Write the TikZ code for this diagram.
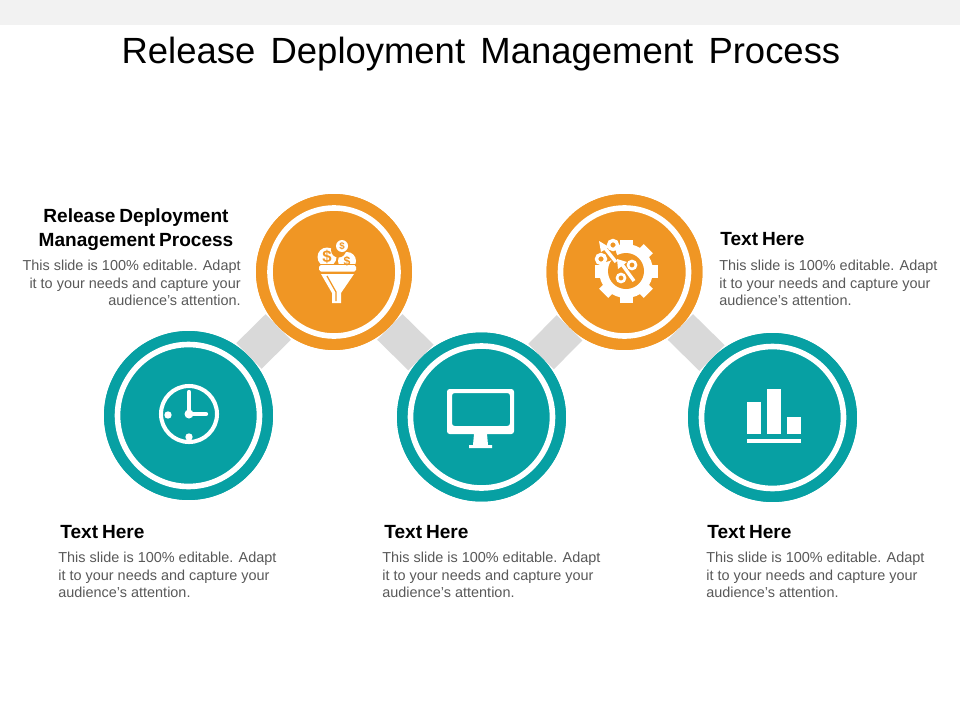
\documentclass[tikz,border=0pt]{standalone}
\usepackage{fontspec}
\setmainfont{Liberation Sans}
\usepackage{tikz}
\usetikzlibrary{positioning,calc}

\definecolor{slideteal}{HTML}{07A0A3}
\definecolor{slideorange}{HTML}{F09624}
\definecolor{barcolor}{HTML}{D9D9D9}
\definecolor{bodycolor}{HTML}{595959}
\definecolor{topcolor}{HTML}{F2F2F2}

\newcommand{\headwords}[1]{{\spaceskip=0.21em #1}}

\tikzset{
    tealdisc/.style={circle, fill=slideteal, inner sep=0pt, minimum size=3.38cm},
    orangedisc/.style={circle, fill=slideorange, inner sep=0pt, minimum size=3.12cm},
    tealring/.style={circle, draw=white, line width=3.2pt, inner sep=0pt, minimum size=2.84cm},
    orangering/.style={circle, draw=white, line width=3.2pt, inner sep=0pt, minimum size=2.56cm},
    linkbar/.style={draw=barcolor, line width=20.5pt},
    headtext/.style={font=\fontsize{10.85}{13}\selectfont\bfseries, text=black, inner sep=0pt},
    bodytext/.style={font=\fontsize{8.22}{9.95}\selectfont, text=bodycolor, inner sep=0pt},
    icon/.style={fill=white, draw=none},
    iconline/.style={draw=white, fill=none}
}

\begin{document}
\begin{tikzpicture}[x=0.02cm, y=-0.02cm]
    \useasboundingbox (0,0) rectangle (960,720);
    \fill[white] (0,0) rectangle (960,720);
    \fill[topcolor] (0,0) rectangle (960,25);

    % Title
    \node[font=\fontsize{20.75}{24}\selectfont, inner sep=0pt] (title) at (481,54)
        {\spaceskip=0.42em Release Deployment Management Process};

    % Circles
    \node[tealdisc] (clock) at (188.5,415.5) {};
    \node[orangedisc] (funnel) at (334,272) {};
    \node[tealdisc] (monitor) at (481.5,417) {};
    \node[orangedisc] (gear) at (624.5,272) {};
    \node[tealdisc] (chart) at (772.5,417.5) {};

    % Links
    \draw[linkbar] (clock) -- (funnel);
    \draw[linkbar] (funnel) -- (monitor);
    \draw[linkbar] (monitor) -- (gear);
    \draw[linkbar] (gear) -- (chart);

    % Discs again, over the links
    \node[tealdisc] (clockdisc) at (clock) {};
    \node[orangedisc] (funneldisc) at (funnel) {};
    \node[tealdisc] (monitordisc) at (monitor) {};
    \node[orangedisc] (geardisc) at (gear) {};
    \node[tealdisc] (chartdisc) at (chart) {};

    % Rings
    \node[tealring] (clockring) at (clock) {};
    \node[orangering] (funnelring) at (funnel) {};
    \node[tealring] (monitorring) at (monitor) {};
    \node[orangering] (gearring) at (gear) {};
    \node[tealring] (chartring) at (chart) {};

    % Clock icon
    \draw[iconline, line width=2.3pt] (189,414) circle (28);
    \draw[iconline, line width=2.4pt, line cap=round] (189,392) -- (189,414) -- (206,414);
    \fill[icon] (189,414) circle (4.5);
    \fill[icon] (168,415) circle (3.7);
    \fill[icon] (189,437) circle (3.7);

    % Monitor icon
    \fill[icon, rounded corners=1.5pt, even odd rule] (447,389) rectangle (514,434)
        (452,393) rectangle (510,426);
    \fill[icon] (474,434) -- (487,434) -- (488,445) -- (492,445) -- (492,448) -- (469,448) -- (469,445) -- (473,445) -- cycle;

    % Chart icon
    \fill[icon] (747,402) rectangle (761,434);
    \fill[icon] (767,389) rectangle (781,434);
    \fill[icon] (787,417) rectangle (801,434);
    \fill[icon] (747,439) rectangle (801,443);

    % Funnel icon
    \fill[icon] (347,261) circle (9);
    \fill[icon] (327,257) circle (9.5);
    \fill[slideorange] (338.5,250) circle (7.5);
    \fill[icon] (342,246) circle (6);
    \fill[slideorange] (318,263.5) rectangle (358,265);
    \fill[icon, rounded corners=1pt] (319,265) -- (356,265) -- (356,271.5) -- (319,271.5) -- cycle;
    \fill[icon] (321,274) -- (354,274) -- (341,293) -- (341,303) -- (332,303) -- (332,293) -- cycle;
    \draw[slideorange, line width=0.7pt] (327,276) -- (336,292) -- (336,301);
    \node[text=slideorange, font=\fontsize{9.5}{10}\selectfont\bfseries, inner sep=0pt] (coinbig) at (327,257) {\$};
    \node[text=slideorange, font=\fontsize{5.5}{6}\selectfont\bfseries, inner sep=0pt] (cointop) at (342,246) {\$};
    \node[text=slideorange, font=\fontsize{7}{7}\selectfont\bfseries, inner sep=0pt] (coinlow) at (347,261) {\$};

    % Gear icon
    \foreach \a in {0,45,...,315} {
        \fill[icon, rotate around={\a:(626,271)}] (619.5,239.5) rectangle (632.5,250);
    }
    \fill[icon] (626,271) circle (27);
    \fill[slideorange] (626,271) circle (18);
    \fill[slideorange] (596,240) -- (612,240) -- (618,258) -- (600,264) -- cycle;
    \draw[iconline, line width=1.5pt] (621,278) circle (4);
    \draw[iconline, line width=1.5pt] (632,265) circle (4);
    \draw[iconline, line width=1.9pt] (634,281) -- (621,263);
    \fill[icon] (617,259) -- (627,262) -- (618,269) -- cycle;
    \fill[icon] (599,241) -- (609,247) -- (601,252) -- cycle;
    \draw[iconline, line width=1.9pt] (604,247) -- (616,262);
    \draw[iconline, line width=1.9pt] (613,245) circle (4.5);
    \draw[iconline, line width=1.9pt] (601,259) circle (4.5);

    % Heading labels
    \node[headtext, align=center, anchor=center] (firsthead) at (136,229.5)
        {\headwords{Release Deployment}\\[0.5pt]\headwords{Management Process}};
    \node[headtext, anchor=base west] (gearhead) at (720,245) {\headwords{Text Here}};
    \node[headtext, anchor=base west] (clockhead) at (60,538) {\headwords{Text Here}};
    \node[headtext, anchor=base west] (monitorhead) at (384,538) {\headwords{Text Here}};
    \node[headtext, anchor=base west] (charthead) at (707,538) {\headwords{Text Here}};

    % Body labels
    \node[bodytext, align=right, anchor=north east] (firstbody) at (241,260)
        {This slide is 100\% editable. Adapt\\it to your needs and capture your\\audience's attention.};
    \node[bodytext, align=left, anchor=north west] (gearbody) at (719,260)
        {This slide is 100\% editable. Adapt\\it to your needs and capture your\\audience's attention.};
    \node[bodytext, align=left, anchor=north west] (clockbody) at (58,552)
        {This slide is 100\% editable. Adapt\\it to your needs and capture your\\audience's attention.};
    \node[bodytext, align=left, anchor=north west] (monitorbody) at (382,552)
        {This slide is 100\% editable. Adapt\\it to your needs and capture your\\audience's attention.};
    \node[bodytext, align=left, anchor=north west] (chartbody) at (706,552)
        {This slide is 100\% editable. Adapt\\it to your needs and capture your\\audience's attention.};
\end{tikzpicture}
\end{document}
